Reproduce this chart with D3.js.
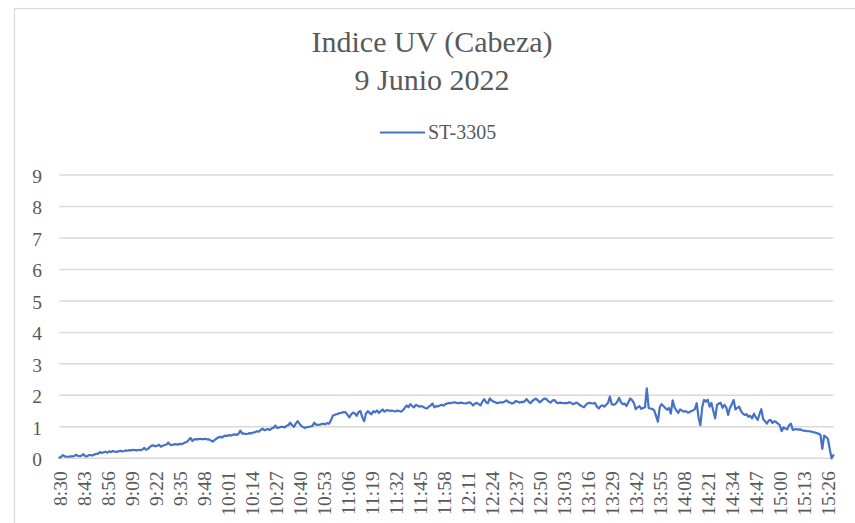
<!DOCTYPE html>
<html>
<head>
<meta charset="utf-8">
<script src="https://cdn.jsdelivr.net/npm/d3@7"></script>
<style>
  html, body { margin: 0; padding: 0; background: #ffffff; }
  svg { display: block; }
  svg text { font-family: "Liberation Serif", "Times New Roman", "DejaVu Serif", serif !important; }
</style>
</head>
<body>
<svg id="chart" width="855" height="523"></svg>
<script>
// Chart text
const titleLines = ["Indice UV (Cabeza)", "9 Junio 2022"];
const seriesName = "ST-3305";

// Sampling: one reading per minute, starting at 8:30
const startTime = { hour: 8, minute: 30 };

// UV index readings, one per minute (8:30 .. 15:29)
const uvValues = [
  0.02, 0.05, 0.1, 0.06, 0.05, 0.05, 0.06, 0.06, 0.07, 0.11,
  0.08, 0.07, 0.08, 0.13, 0.07, 0.06, 0.1, 0.1, 0.09, 0.12,
  0.14, 0.15, 0.2, 0.17, 0.19, 0.21, 0.18, 0.22, 0.2, 0.23,
  0.21, 0.2, 0.22, 0.24, 0.22, 0.23, 0.25, 0.24, 0.26, 0.25,
  0.27, 0.26, 0.25, 0.27, 0.26, 0.28, 0.33, 0.27, 0.3, 0.36,
  0.4, 0.41, 0.38, 0.4, 0.43, 0.37, 0.4, 0.42, 0.44, 0.5,
  0.43, 0.42, 0.44, 0.45, 0.43, 0.46, 0.45, 0.47, 0.5, 0.52,
  0.58, 0.65, 0.55, 0.6, 0.61, 0.6, 0.62, 0.61, 0.61, 0.62,
  0.6, 0.6, 0.57, 0.53, 0.58, 0.62, 0.66, 0.68, 0.66, 0.7,
  0.72, 0.71, 0.74, 0.72, 0.75, 0.76, 0.74, 0.78, 0.88, 0.78,
  0.79, 0.77, 0.78, 0.8, 0.79, 0.82, 0.83, 0.86, 0.85, 0.9,
  0.94, 0.89, 0.91, 0.93, 0.9, 0.95, 0.97, 1.04, 0.96, 0.98,
  1.0, 1.0, 0.98, 1.03, 1.06, 1.13, 1.05, 1.0, 1.1, 1.18,
  1.1, 1.03, 0.99, 0.96, 0.99, 1.0, 1.01, 1.03, 1.13, 1.07,
  1.06, 1.07, 1.09, 1.1, 1.08, 1.12, 1.1, 1.2, 1.35, 1.38,
  1.4, 1.42, 1.44, 1.45, 1.47, 1.46, 1.38, 1.3, 1.4, 1.45,
  1.42, 1.35, 1.47, 1.5, 1.3, 1.18, 1.42, 1.5, 1.44, 1.4,
  1.5, 1.46, 1.52, 1.44, 1.5, 1.55, 1.48, 1.52, 1.53, 1.5,
  1.52, 1.5, 1.49, 1.52, 1.5, 1.48, 1.53, 1.6, 1.68, 1.62,
  1.72, 1.66, 1.62, 1.7, 1.67, 1.64, 1.66, 1.63, 1.6, 1.58,
  1.64, 1.68, 1.74, 1.62, 1.66, 1.65, 1.68, 1.7, 1.67, 1.72,
  1.74, 1.76, 1.75, 1.77, 1.78, 1.76, 1.75, 1.77, 1.76, 1.75,
  1.74, 1.76, 1.78, 1.74, 1.68, 1.74, 1.76, 1.72, 1.68, 1.8,
  1.88, 1.78, 1.75, 1.9, 1.84, 1.8, 1.78, 1.75, 1.77, 1.78,
  1.77, 1.8, 1.84, 1.79, 1.77, 1.74, 1.76, 1.82, 1.8, 1.77,
  1.79, 1.78, 1.82, 1.88, 1.8, 1.75, 1.82, 1.86, 1.9, 1.84,
  1.78, 1.82, 1.88, 1.9, 1.86, 1.8, 1.77, 1.84, 1.85, 1.78,
  1.75, 1.77, 1.76, 1.75, 1.76, 1.75, 1.78, 1.76, 1.72, 1.74,
  1.77, 1.73, 1.68, 1.65, 1.62, 1.7, 1.75, 1.76, 1.75, 1.74,
  1.76, 1.64, 1.58, 1.66, 1.68, 1.64, 1.7, 1.76, 1.96, 1.72,
  1.7, 1.72, 1.8, 1.92, 1.78, 1.72, 1.74, 1.66, 1.78, 1.9,
  1.85, 1.76, 1.56, 1.62, 1.66, 1.57, 1.6, 1.62, 2.22, 1.6,
  1.58, 1.57, 1.52, 1.35, 1.16, 1.62, 1.72, 1.66, 1.6, 1.54,
  1.6, 1.42, 1.84, 1.62, 1.52, 1.44, 1.55, 1.52, 1.48, 1.5,
  1.46, 1.46, 1.5, 1.52, 1.56, 1.75, 1.3, 1.05, 1.62, 1.86,
  1.8, 1.86, 1.64, 1.76, 1.5, 1.27, 1.7, 1.74, 1.76, 1.6,
  1.7, 1.62, 1.38, 1.6, 1.72, 1.85, 1.55, 1.6, 1.64, 1.5,
  1.42, 1.38, 1.4, 1.32, 1.35, 1.27, 1.42, 1.3, 1.22, 1.4,
  1.56, 1.24, 1.18, 1.1, 1.2, 1.22, 1.12, 1.18, 1.15, 1.1,
  1.05, 0.86, 0.98, 0.95, 0.92, 1.05, 1.1, 0.9, 0.92, 0.93,
  0.91, 0.92, 0.89, 0.88, 0.87, 0.86, 0.86, 0.85, 0.83, 0.82,
  0.8, 0.78, 0.74, 0.3, 0.72, 0.68, 0.62, 0.3, 0.0, 0.1
];

// Labelled categories along the time axis
const tickLabels = [
  "8:30", "8:43", "8:56", "9:09", "9:22", "9:35", "9:48", "10:01", "10:14",
  "10:27", "10:40", "10:53", "11:06", "11:19", "11:32", "11:45", "11:58",
  "12:11", "12:24", "12:37", "12:50", "13:03", "13:16", "13:29", "13:42",
  "13:55", "14:08", "14:21", "14:34", "14:47", "15:00", "15:13", "15:26"
];

// Value axis ticks
const yTicks = [0, 1, 2, 3, 4, 5, 6, 7, 8, 9];

// Time label for each reading
function timeLabel(index) {
  const total = startTime.hour * 60 + startTime.minute + index;
  const h = Math.floor(total / 60);
  const m = total % 60;
  return h + ":" + String(m).padStart(2, "0");
}
const categories = uvValues.map((_, i) => timeLabel(i));
const rows = uvValues.map((v, i) => ({ time: categories[i], value: v }));

const serifFont = "'Liberation Serif', 'Times New Roman', 'DejaVu Serif', serif";
const svg = d3.select("#chart").style("font-family", serifFont);
const textColor = "#595959";
const gridColor = "#d9d9d9";
const lineColor = "#4472c4";

// Chart frame (continues past the right and bottom edges)
svg.append("rect")
  .attr("x", 14.5).attr("y", 8.5)
  .attr("width", 900).attr("height", 560)
  .attr("fill", "#ffffff")
  .attr("stroke", gridColor).attr("stroke-width", 1.2);

const plot = { left: 59.3, right: 833.4, top: 175, bottom: 458.3 };

const x = d3.scalePoint()
  .domain(categories)
  .range([plot.left, plot.right]);

const y = d3.scaleLinear()
  .domain([0, 9])
  .range([plot.bottom, plot.top]);

// Horizontal gridlines
svg.append("g")
  .attr("class", "grid")
  .selectAll("line")
  .data(yTicks)
  .join("line")
  .attr("x1", plot.left).attr("x2", plot.right)
  .attr("y1", d => y(d)).attr("y2", d => y(d))
  .attr("stroke", gridColor)
  .attr("stroke-width", 1.5);

// Value axis labels
const yAxis = svg.append("g")
  .attr("transform", `translate(42,0)`)
  .call(d3.axisLeft(y).tickValues(yTicks).tickSize(0).tickPadding(0).tickFormat(d3.format("d")));
yAxis.attr("font-family", null).attr("font-size", null);
yAxis.select(".domain").remove();
yAxis.selectAll("text")
  .attr("fill", textColor)
  .style("font-family", serifFont)
  .style("font-size", "19.5px")
  .attr("dy", "0.38em");

// Time axis labels, rotated
const xAxis = svg.append("g")
  .attr("transform", `translate(0,${plot.bottom})`)
  .call(d3.axisBottom(x).tickValues(tickLabels).tickSize(0).tickPadding(0));
xAxis.attr("font-family", null).attr("font-size", null);
xAxis.select(".domain").remove();
xAxis.selectAll("text")
  .attr("fill", textColor)
  .style("font-family", serifFont)
  .style("font-size", "19.5px")
  .attr("text-anchor", "end")
  .attr("transform", "rotate(-90)")
  .attr("x", -13)
  .attr("y", 0)
  .attr("dy", "0.35em");

// Data line
const line = d3.line()
  .x(d => x(d.time))
  .y(d => y(d.value));

svg.append("path")
  .datum(rows)
  .attr("fill", "none")
  .attr("stroke", lineColor)
  .attr("stroke-width", 2.2)
  .attr("stroke-linejoin", "round")
  .attr("stroke-linecap", "round")
  .attr("d", line);

// Title
const title = svg.append("text")
  .attr("text-anchor", "middle")
  .attr("fill", textColor)
  .style("font-family", serifFont)
  .style("font-size", "30px");
title.selectAll("tspan")
  .data(titleLines)
  .join("tspan")
  .attr("x", 432)
  .attr("y", (d, i) => 52 + i * 38)
  .text(d => d);

// Legend
const legend = svg.append("g");
legend.append("line")
  .attr("x1", 380).attr("x2", 425)
  .attr("y1", 132.5).attr("y2", 132.5)
  .attr("stroke", lineColor)
  .attr("stroke-width", 2.2);
legend.append("text")
  .attr("x", 428).attr("y", 138.5)
  .attr("fill", textColor)
  .style("font-family", serifFont)
  .style("font-size", "20px")
  .text(seriesName);
</script>
</body>
</html>
